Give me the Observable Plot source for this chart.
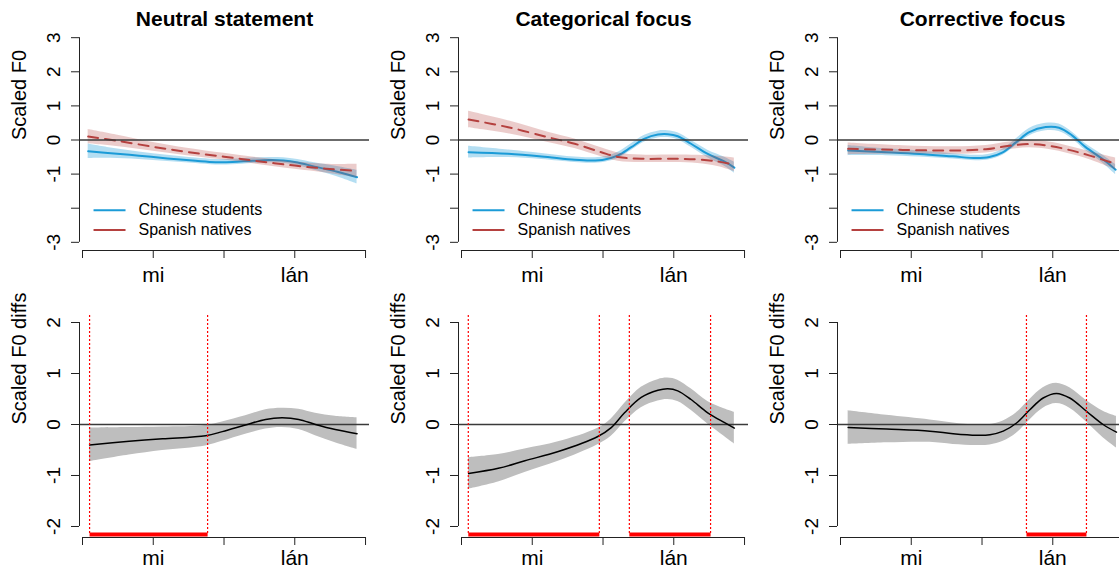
<!DOCTYPE html>
<html><head><meta charset="utf-8">
<script src="https://cdn.jsdelivr.net/npm/d3@7"></script>
<script src="https://cdn.jsdelivr.net/npm/@observablehq/plot@0.6"></script>
<style>
html,body{margin:0;padding:0;background:#fff;overflow:hidden;}
#wrap{position:relative;width:1119px;height:570px;overflow:hidden;background:#fff;}
.panel{position:absolute;}
.panel svg{max-width:none !important;}
</style></head><body><div id="wrap"></div>
<script>
// ---------- data ----------
const conditions = ["Neutral statement", "Categorical focus", "Corrective focus"];
const groups = ["Chinese students", "Spanish natives"];
const xTicks = [0, 0.25, 0.5, 0.75, 1];
const xTickLabels = ["", "mi", "", "lán", ""];
const yTicksTop = [-3, -2, -1, 0, 1, 2, 3];
const yTickLabelsTop = ["-3", "", "-1", "0", "1", "2", "3"];
const yTicksBottom = [-2, -1, 0, 1, 2];
const yTickLabelsBottom = ["-2", "-1", "0", "1", "2"];
const yLabelTop = "Scaled F0";
const yLabelBottom = "Scaled F0 diffs";

// [time, fitted, ci half-width]
const neutralChinese = [[0.02,-0.33,0.21],[0.10,-0.385,0.15],[0.20,-0.46,0.11],[0.30,-0.54,0.09],[0.40,-0.61,0.08],[0.47,-0.65,0.08],[0.53,-0.645,0.08],[0.60,-0.61,0.08],[0.66,-0.59,0.08],[0.71,-0.60,0.08],[0.76,-0.66,0.09],[0.82,-0.78,0.11],[0.90,-0.93,0.15],[0.97,-1.09,0.2]];
const neutralSpanish = [[0.02,0.10,0.21],[0.12,-0.02,0.17],[0.25,-0.20,0.13],[0.37,-0.35,0.11],[0.50,-0.49,0.10],[0.62,-0.62,0.10],[0.75,-0.75,0.11],[0.86,-0.84,0.13],[0.97,-0.91,0.2]];
const categoricalChinese = [[0.025,-0.356,0.17],[0.165,-0.405,0.11],[0.283,-0.483,0.09],[0.40,-0.58,0.08],[0.459,-0.60,0.08],[0.506,-0.57,0.08],[0.553,-0.45,0.09],[0.60,-0.21,0.1],[0.647,0.04,0.1],[0.694,0.16,0.1],[0.729,0.17,0.1],[0.764,0.11,0.1],[0.811,-0.11,0.1],[0.87,-0.41,0.11],[0.928,-0.63,0.13],[0.964,-0.81,0.16]];
const categoricalSpanish = [[0.025,0.60,0.24],[0.165,0.375,0.19],[0.306,0.08,0.15],[0.40,-0.11,0.14],[0.494,-0.36,0.13],[0.553,-0.50,0.12],[0.635,-0.55,0.11],[0.752,-0.55,0.11],[0.835,-0.57,0.12],[0.905,-0.63,0.15],[0.964,-0.73,0.2]];
const correctiveChinese = [[0.027,-0.31,0.15],[0.162,-0.36,0.1],[0.279,-0.41,0.09],[0.397,-0.48,0.08],[0.479,-0.53,0.08],[0.526,-0.50,0.08],[0.573,-0.36,0.09],[0.62,-0.07,0.1],[0.667,0.23,0.11],[0.725,0.38,0.11],[0.772,0.36,0.11],[0.819,0.13,0.1],[0.866,-0.21,0.1],[0.925,-0.55,0.12],[0.972,-0.87,0.15]];
const correctiveSpanish = [[0.027,-0.26,0.17],[0.22,-0.29,0.12],[0.397,-0.31,0.11],[0.514,-0.27,0.11],[0.596,-0.17,0.11],[0.667,-0.12,0.11],[0.737,-0.17,0.11],[0.807,-0.29,0.11],[0.878,-0.45,0.12],[0.972,-0.70,0.17]];

const neutralDiff = [[0.025,-0.40,0.33],[0.165,-0.33,0.27],[0.283,-0.28,0.23],[0.435,-0.22,0.2],[0.494,-0.14,0.19],[0.576,-0.01,0.18],[0.647,0.10,0.19],[0.705,0.13,0.19],[0.764,0.10,0.2],[0.823,0.0,0.22],[0.893,-0.10,0.26],[0.97,-0.18,0.31]];
const categoricalDiff = [[0.025,-0.96,0.31],[0.13,-0.86,0.27],[0.224,-0.71,0.23],[0.342,-0.53,0.19],[0.48,-0.24,0.16],[0.529,-0.06,0.17],[0.576,0.23,0.18],[0.635,0.53,0.2],[0.694,0.67,0.21],[0.729,0.70,0.21],[0.764,0.66,0.21],[0.811,0.49,0.21],[0.87,0.23,0.22],[0.928,0.04,0.27],[0.964,-0.07,0.31]];
const correctiveDiff = [[0.027,-0.06,0.33],[0.163,-0.09,0.27],[0.316,-0.13,0.22],[0.398,-0.18,0.21],[0.48,-0.21,0.2],[0.528,-0.20,0.2],[0.575,-0.13,0.2],[0.622,0.03,0.2],[0.669,0.29,0.2],[0.716,0.52,0.2],[0.763,0.61,0.2],[0.81,0.52,0.2],[0.869,0.26,0.21],[0.928,0.0,0.26],[0.975,-0.15,0.31]];

// significant-difference windows [start, end]
const neutralSig = [[0.025, 0.442]];
const categoricalSig = [[0.024, 0.487], [0.593, 0.88]];
const correctiveSig = [[0.657, 0.869]];

// ---------- layout ----------
const chineseSeries = [neutralChinese, categoricalChinese, correctiveChinese];
const spanishSeries = [neutralSpanish, categoricalSpanish, correctiveSpanish];
const diffSeries = [neutralDiff, categoricalDiff, correctiveDiff];
const sigSeries = [neutralSig, categoricalSig, correctiveSig];

const W = 379, colLeft = [0, 379, 758];
const xDomain = [-0.0106, 1.014];
const yDomTop = [-3.24, 3.24];
const yDomBot = [-2.216, 2.216];
const blue = "#1b9bd7", red = "#b5413f";
const font = "'Liberation Sans', Arial, Helvetica, sans-serif";
const legend = {x1: 0.039, x2: 0.152, xText: 0.198, y: [-2.06, -2.64]};

const toObj = arr => arr.map(([t, fit, ci]) => ({t, fit, ci}));
const lab = (ticks, labels) => d => labels[ticks.indexOf(d)] ?? "";

function bandLine(data, color, opacity, dash) {
  return [
    Plot.areaY(data, {x: "t", y1: d => d.fit - d.ci, y2: d => d.fit + d.ci, curve: "catmull-rom", fill: color, fillOpacity: opacity}),
    Plot.line(data, {x: "t", y: "fit", curve: "catmull-rom", stroke: color, strokeWidth: 2, strokeDasharray: dash})
  ];
}

function axes(yTicks, yLabels, yDom, yLabel, xPad) {
  return [
    Plot.ruleX([xDomain[0]], {y1: yTicks[0], y2: yTicks[yTicks.length - 1], stroke: "#222"}),
    Plot.ruleY([yDom[0]], {x1: xTicks[0], x2: xTicks[xTicks.length - 1], stroke: "#222"}),
    Plot.axisY({ticks: yTicks, tickSize: 8, tickPadding: 12, tickRotate: -90, tickFormat: lab(yTicks, yLabels), fontSize: 19, label: null, stroke: "#222"}),
    Plot.axisX({ticks: xTicks, tickSize: 8, tickPadding: xPad, tickFormat: lab(xTicks, xTickLabels), fontSize: 21, label: null, stroke: "#222"}),
    Plot.text([yLabel], {frameAnchor: "left", dx: -60, rotate: -90, fontSize: 20, lineAnchor: "middle"})
  ];
}

const wrap = document.getElementById("wrap");
function place(svg, left, top, h) {
  const d = document.createElement("div");
  d.className = "panel";
  d.style.left = left + "px";
  d.style.top = top + "px";
  d.style.width = W + "px";
  d.style.height = h + "px";
  svg.style.maxWidth = "none";
  d.appendChild(svg);
  wrap.appendChild(d);
}

for (let i = 0; i < 3; i++) {
  const cn = toObj(chineseSeries[i]);
  const es = toObj(spanishSeries[i]);
  const legendRows = groups.map((g, k) => ({g, y: legend.y[k]}));
  const top = Plot.plot({
    width: W, height: 290,
    marginLeft: 79, marginRight: W - 369, marginTop: 29, marginBottom: 40,
    x: {domain: xDomain, axis: null},
    y: {domain: yDomTop, axis: null},
    style: {fontFamily: font, background: "white", color: "black", overflow: "visible", maxWidth: "none"},
    marks: [
      ...bandLine(cn, blue, 0.33, null),
      ...bandLine(es, red, 0.27, "10,7"),
      Plot.ruleY([0], {stroke: "#3a3a3a", strokeWidth: 1.5}),
      ...axes(yTicksTop, yTickLabelsTop, yDomTop, yLabelTop, 9),
      Plot.text([conditions[i]], {frameAnchor: "top", dy: -4, lineAnchor: "bottom", fontWeight: "bold", fontSize: 21}),
      Plot.link(legendRows, {x1: legend.x1, x2: legend.x2, y1: "y", y2: "y", stroke: d => d.g === groups[0] ? blue : red, strokeWidth: 2, strokeDasharray: d => d.g === groups[0] ? null : "10,7"}),
      Plot.text(legendRows, {x: legend.xText, y: "y", text: "g", textAnchor: "start", lineAnchor: "middle", fontSize: 16})
    ]
  });
  place(top, colLeft[i], 0, 290);

  const df = toObj(diffSeries[i]);
  const sig = sigSeries[i];
  const edges = sig.flat();
  const bottom = Plot.plot({
    width: W, height: 280,
    marginLeft: 79, marginRight: W - 369, marginTop: 21, marginBottom: 33,
    x: {domain: xDomain, axis: null},
    y: {domain: yDomBot, axis: null},
    style: {fontFamily: font, background: "white", color: "black", overflow: "visible", maxWidth: "none"},
    marks: [
      Plot.areaY(df, {x: "t", y1: d => d.fit - d.ci, y2: d => d.fit + d.ci, curve: "catmull-rom", fill: "#bebebe"}),
      Plot.ruleY([0], {stroke: "#3a3a3a", strokeWidth: 1.5}),
      Plot.line(df, {x: "t", y: "fit", curve: "catmull-rom", stroke: "black", strokeWidth: 1.5}),
      Plot.ruleX(edges, {y1: 2.137, y2: -2.157, stroke: "red", strokeWidth: 1.2, strokeDasharray: "2,2"}),
      Plot.link(sig, {x1: d => d[0], x2: d => d[1], y1: -2.157, y2: -2.157, stroke: "red", strokeWidth: 4}),
      ...axes(yTicksBottom, yTickLabelsBottom, yDomBot, yLabelBottom, 5)
    ]
  });
  place(bottom, colLeft[i], 290, 280);
}
</script>
</body></html>
